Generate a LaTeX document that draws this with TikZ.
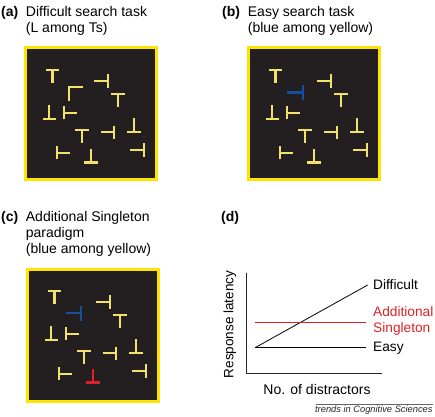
\documentclass[tikz,border=0pt]{standalone}
\usepackage{fontspec}
\setmainfont{Liberation Sans}

\definecolor{frameyellow}{RGB}{255,228,0}
\definecolor{teeyellow}{RGB}{243,226,104}
\definecolor{teeblue}{RGB}{22,78,160}
\definecolor{teered}{RGB}{222,32,40}
\definecolor{screen}{RGB}{35,31,32}

\tikzset{
  display/.style={rectangle,draw=frameyellow,fill=screen,line width=3pt,
    minimum width=131pt,minimum height=132pt,outer sep=0pt},
  letter/.style={line width=2.1pt,line cap=butt,line join=miter},
  pics/tee/.style={code={\draw[letter,#1] (-6.75,-6.75) -- (6.75,-6.75) (0,-6.75) -- (0,6.75);}},
  pics/tee/.default=teeyellow,
  pics/ell/.style={code={\draw[letter,#1] (6.9,-7) -- (-6.9,-7) -- (-6.9,7);}},
  pics/ell/.default=teeyellow,
  title/.style={anchor=base west,align=left,inner sep=0pt,font=\fontsize{14}{16}\selectfont},
  tag/.style={anchor=base west,inner sep=0pt,font=\fontsize{14}{16}\selectfont\bfseries},
}

% the ten Ts that are the same in every display
\newcommand{\distractors}{
  \pic at (28.5,30.7) {tee};
  \pic[rotate=-90] at (77.2,35) {tee};
  \pic at (94,54.3) {tee};
  \pic[rotate=180] at (25.3,66.2) {tee};
  \pic[rotate=90] at (46.3,66.7) {tee};
  \pic at (58,90.5) {tee};
  \pic[rotate=-90] at (83.3,86.3) {tee};
  \pic[rotate=180] at (110.2,79) {tee};
  \pic[rotate=90] at (39.7,106.7) {tee};
  \pic[rotate=-90] at (113.2,103.8) {tee};
}

\begin{document}
\begin{tikzpicture}[x=1pt,y=-1pt]
  \useasboundingbox (0,0) rectangle (435,416);

  % panel titles (base = last line)
  \node[tag] (taga) at (1,16) {(a)};
  \node[title] (titlea) at (25.7,32) {Difficult search task\\(L among Ts)};
  \node[tag] (tagb) at (222,16) {(b)};
  \node[title] (titleb) at (247.7,32) {Easy search task\\(blue among yellow)};
  \node[tag] (tagc) at (1,221.5) {(c)};
  \node[title] (titlec) at (25.7,253.5) {Additional Singleton\\paradigm\\(blue among yellow)};
  \node[tag] (tagd) at (221,221.5) {(d)};

  % the three search displays
  \node[display] (boxa) at (91,113.5) {};
  \node[display] (boxb) at (314,113.5) {};
  \node[display] (boxc) at (93,335) {};

  \begin{scope}[shift={(24,46)}]
    \distractors
    \pic at (52.2,48) {ell};
    \pic[rotate=180] at (67.2,109.7) {tee};
  \end{scope}

  \begin{scope}[shift={(247,46)}]
    \distractors
    \pic[rotate=-90,scale=1.12] at (48,46.5) {tee=teeblue};
    \pic[rotate=180] at (67.2,109.7) {tee};
  \end{scope}

  \begin{scope}[shift={(26,267)}]
    \distractors
    \pic[rotate=-90,scale=1.12] at (47.8,46.3) {tee=teeblue};
    \pic[rotate=180] at (67,108.7) {tee=teered};
  \end{scope}

  % response latency plot
  \coordinate (origin) at (246.7,373.3);
  \coordinate (ytop) at (246.7,273.3);
  \coordinate (xend) at (382.3,373.3);
  \coordinate (start) at (255,347.7);
  \coordinate (difficult) at (367.7,285);
  \coordinate (easy) at (365.7,347.7);
  \coordinate (redstart) at (255,322.7);
  \coordinate (redend) at (365.7,322.7);

  \draw[line width=0.9pt,black!85] (ytop) -- (origin) -- (xend);
  \draw[line width=0.8pt] (start) -- (difficult);
  \draw[line width=0.8pt] (start) -- (easy);
  \draw[line width=0.8pt,teered] (redstart) -- (redend);

  \begin{scope}[every node/.style={anchor=base west,inner sep=0pt,font=\fontsize{13.7}{16.3}\selectfont}]
    \node (ldifficult) at (373,289) {Difficult};
    \node[text=teered,align=left] (lsingleton) at (373,332.3) {Additional\\Singleton};
    \node (leasy) at (373,351.7) {Easy};
  \end{scope}

  \node[rotate=90,anchor=base,inner sep=0pt,font=\fontsize{13.5}{16}\selectfont] (ylabel) at (233.3,324.5) {Response latency};
  \node[anchor=base,inner sep=0pt,font=\fontsize{14}{16}\selectfont] (xlabel) at (317,394.3) {No. of distractors};

  % journal footer
  \coordinate (rulestart) at (316,404.3);
  \coordinate (ruleend) at (432.7,404.3);
  \draw[line width=0.5pt,black!60] (rulestart) -- (ruleend);
  \node[anchor=base east,inner sep=0pt,font=\fontsize{9.3}{11}\selectfont\itshape,black!85] (journal) at (432.7,412.3) {trends in Cognitive Sciences};
\end{tikzpicture}
\end{document}
